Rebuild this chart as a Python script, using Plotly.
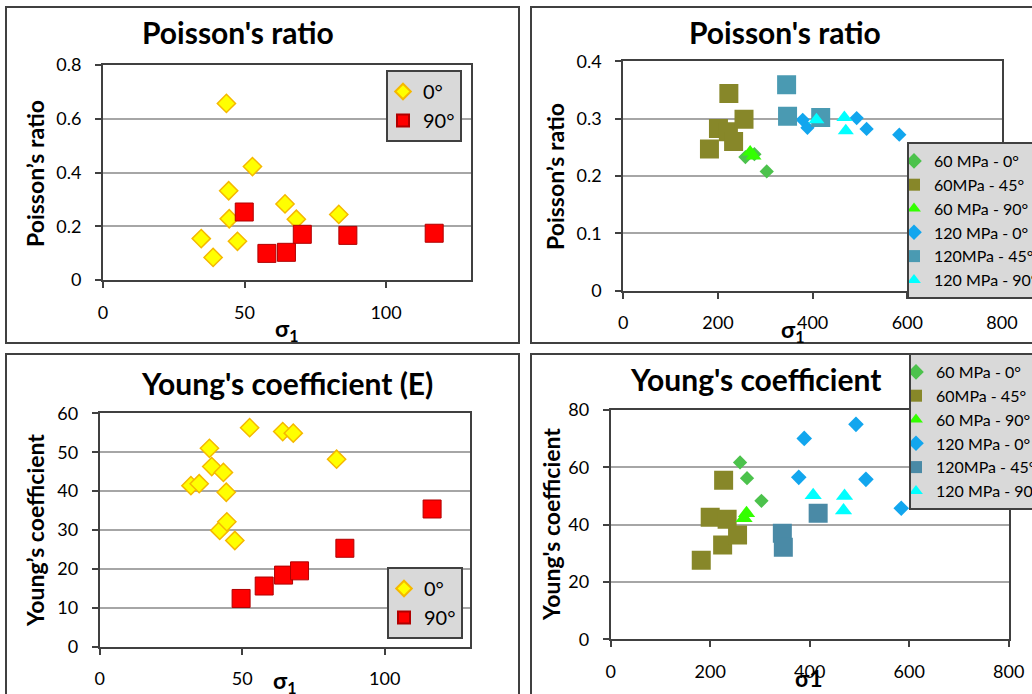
import plotly.graph_objects as go

W, H = 1032, 694
FONT = "Lato, 'Open Sans', 'DejaVu Sans', sans-serif"

# ---- Uniaxial tests: Poisson's ratio vs sigma_1 ----
uni_pr_0_s1 = [34.7, 38.9, 43.6, 44.4, 44.6, 47.5, 52.8, 64.3, 68.3, 83.3]
uni_pr_0_nu = [0.154, 0.084, 0.657, 0.332, 0.228, 0.144, 0.422, 0.283, 0.226, 0.244]
uni_pr_90_s1 = [49.9, 57.9, 64.8, 70.4, 86.5, 117.0]
uni_pr_90_nu = [0.253, 0.099, 0.103, 0.170, 0.166, 0.174]

# ---- Uniaxial tests: Young's coefficient vs sigma_1 ----
uni_e_0_s1 = [32.0, 34.9, 38.5, 39.3, 42.1, 43.4, 44.4, 44.6, 47.4, 52.6, 64.2, 67.9, 83.1]
uni_e_0_e = [41.4, 41.9, 51.0, 46.3, 29.9, 44.8, 39.7, 32.1, 27.3, 56.3, 55.3, 54.9, 48.2]
uni_e_90_s1 = [49.6, 57.7, 64.5, 70.1, 86.0, 116.6]
uni_e_90_e = [12.4, 15.6, 18.4, 19.5, 25.3, 35.4]

# ---- Triaxial tests: Poisson's ratio vs sigma_1 ----
tri_pr_60_0_s1 = [258, 277, 303]
tri_pr_60_0_nu = [0.233, 0.238, 0.208]
tri_pr_60_45_s1 = [182, 201, 222, 223, 233, 255]
tri_pr_60_45_nu = [0.247, 0.283, 0.277, 0.344, 0.260, 0.299]
tri_pr_60_90_s1 = [268, 275]
tri_pr_60_90_nu = [0.242, 0.235]
tri_pr_120_0_s1 = [379, 389, 493, 514, 583]
tri_pr_120_0_nu = [0.298, 0.284, 0.301, 0.282, 0.272]
tri_pr_120_45_s1 = [345, 347, 417]
tri_pr_120_45_nu = [0.359, 0.304, 0.302]
tri_pr_120_90_s1 = [408, 467, 470]
tri_pr_120_90_nu = [0.298, 0.302, 0.279]

# ---- Triaxial tests: Young's coefficient vs sigma_1 ----
tri_e_60_0_s1 = [260, 274, 303]
tri_e_60_0_e = [61.7, 56.2, 48.3]
tri_e_60_45_s1 = [182, 200, 225, 227, 234, 255]
tri_e_60_45_e = [27.6, 42.6, 32.9, 55.5, 41.9, 36.4]
tri_e_60_90_s1 = [268, 273]
tri_e_60_90_e = [42.2, 44.0]
tri_e_120_0_s1 = [378, 389, 493, 513, 584]
tri_e_120_0_e = [56.5, 70.1, 75.0, 55.8, 45.7]
tri_e_120_45_s1 = [345, 347, 417]
tri_e_120_45_e = [37.0, 32.1, 44.0]
tri_e_120_90_s1 = [407, 468, 470]
tri_e_120_90_e = [50.3, 44.9, 50.0]

uni_names = ["0°", "90°"]
tri_names = ["60 MPa - 0°", "60MPa - 45°", "60 MPa - 90°",
             "120 MPa - 0°", "120MPa - 45°", "120 MPa - 90°"]


def px(x):
    return x / W


def py(y):
    return 1 - y / H


uni_styles = [
    dict(symbol="diamond", size=14, color="#ffff00", line=dict(color="#f5b800", width=1.5)),
    dict(symbol="square", size=18, color="#ff0000", line=dict(color="#b00000", width=1)),
]


def tri_styles(big):
    return [
        dict(symbol="diamond", size=11, color="#4cc24c", line=dict(width=0)),
        dict(symbol="square", size=19, color="#878729", line=dict(width=0)),
        dict(symbol="triangle-up", size=15 if big else 14, color="#33ff00", line=dict(width=0)),
        dict(symbol="diamond", size=12 if big else 11, color="#12a6ee", line=dict(width=0)),
        dict(symbol="square", size=19, color="#4a8aa6" if big else "#4a9ab2", line=dict(width=0)),
        dict(symbol="triangle-up", size=15 if big else 14, color="#00ffff", line=dict(width=0)),
    ]


fig = go.Figure()

# Panel 1: uniaxial Poisson's ratio
for name, xs, ys, st in zip(uni_names, [uni_pr_0_s1, uni_pr_90_s1],
                            [uni_pr_0_nu, uni_pr_90_nu], uni_styles):
    fig.add_trace(go.Scatter(x=xs, y=ys, mode="markers", name=name, marker=st,
                             xaxis="x", yaxis="y", legend="legend",
                             legendgroup="a" + name))

# Panel 2: triaxial Poisson's ratio
for name, xs, ys, st in zip(
        tri_names,
        [tri_pr_60_0_s1, tri_pr_60_45_s1, tri_pr_60_90_s1,
         tri_pr_120_0_s1, tri_pr_120_45_s1, tri_pr_120_90_s1],
        [tri_pr_60_0_nu, tri_pr_60_45_nu, tri_pr_60_90_nu,
         tri_pr_120_0_nu, tri_pr_120_45_nu, tri_pr_120_90_nu],
        tri_styles(False)):
    fig.add_trace(go.Scatter(x=xs, y=ys, mode="markers", name=name, marker=st,
                             xaxis="x2", yaxis="y2", legend="legend2",
                             legendgroup="b" + name))

# Panel 3: uniaxial Young's coefficient
for name, xs, ys, st in zip(uni_names, [uni_e_0_s1, uni_e_90_s1],
                            [uni_e_0_e, uni_e_90_e], uni_styles):
    fig.add_trace(go.Scatter(x=xs, y=ys, mode="markers", name=name, marker=st,
                             xaxis="x3", yaxis="y3", legend="legend3",
                             legendgroup="c" + name))

# Panel 4: triaxial Young's coefficient
for name, xs, ys, st in zip(
        tri_names,
        [tri_e_60_0_s1, tri_e_60_45_s1, tri_e_60_90_s1,
         tri_e_120_0_s1, tri_e_120_45_s1, tri_e_120_90_s1],
        [tri_e_60_0_e, tri_e_60_45_e, tri_e_60_90_e,
         tri_e_120_0_e, tri_e_120_45_e, tri_e_120_90_e],
        tri_styles(True)):
    fig.add_trace(go.Scatter(x=xs, y=ys, mode="markers", name=name, marker=st,
                             xaxis="x4", yaxis="y4", legend="legend4",
                             legendgroup="d" + name))

AX = "#404040"
tickfont = dict(family=FONT, size=18, color="#000000")


def xax(domain, rng, dtick, anchor):
    return dict(domain=domain, range=rng, dtick=dtick, anchor=anchor,
                showgrid=False, zeroline=False, showline=True, mirror=True,
                linecolor=AX, linewidth=2, ticks="outside", ticklen=6,
                tickwidth=2, tickcolor=AX, tickfont=tickfont,
                ticklabelstandoff=9, fixedrange=True)


def yax(domain, rng, dtick, anchor):
    return dict(domain=domain, range=rng, dtick=dtick, anchor=anchor,
                showgrid=True, gridcolor="#a6a6a6", gridwidth=2,
                zeroline=False, showline=True, mirror=True,
                linecolor=AX, linewidth=2, ticks="outside", ticklen=6,
                tickwidth=2, tickcolor=AX, tickfont=tickfont,
                ticklabelstandoff=10, fixedrange=True)


def legend_box(left, top, size, gap, indent):
    return dict(x=px(left), y=py(top), xanchor="left", yanchor="top",
                bgcolor="#d9d9d9", bordercolor=AX, borderwidth=2,
                font=dict(family=FONT, size=size, color="#000000"),
                tracegroupgap=gap, itemsizing="constant", indentation=indent)


fig.update_layout(
    width=W, height=H,
    margin=dict(l=0, r=0, t=0, b=0, autoexpand=False),
    paper_bgcolor="white", plot_bgcolor="white",
    xaxis=xax([px(103), px(471)], [0, 130], 50, "y"),
    yaxis=yax([py(280), py(65)], [0, 0.8], 0.2, "x"),
    xaxis2=xax([px(623.3), px(1002)], [0, 800], 200, "y2"),
    yaxis2=yax([py(290.7), py(61.3)], [0, 0.4], 0.1, "x2"),
    xaxis3=xax([px(99.7), px(470.3)], [0, 130], 50, "y3"),
    yaxis3=yax([py(646.7), py(413.3)], [0, 60], 10, "x3"),
    xaxis4=xax([px(610.7), px(1008.7)], [0, 800], 200, "y4"),
    yaxis4=yax([py(639.3), py(410)], [0, 80], 20, "x4"),
    legend=legend_box(386, 70, 20, 0, -5),
    legend2=legend_box(907, 142, 16, 0, -15),
    legend3=legend_box(387, 567, 20, 0, -5),
    legend4=legend_box(909, 353, 16, 0, -15),
    showlegend=True,
)

# Chart frames around each panel
for x0, y0, x1, y1 in [(6, 7, 519, 343), (531, 7, 1045, 343),
                       (6, 354, 519, 705), (531, 354, 1045, 705)]:
    fig.add_shape(type="rect", xref="paper", yref="paper",
                  x0=px(x0), x1=px(x1), y0=py(y1), y1=py(y0),
                  line=dict(color=AX, width=2), fillcolor="rgba(0,0,0,0)")


def label(text, x, y, size, angle=0):
    fig.add_annotation(text=text, x=px(x), y=py(y), xref="paper", yref="paper",
                       xanchor="center", yanchor="middle", showarrow=False,
                       textangle=angle,
                       font=dict(family=FONT, size=size, color="#000000", weight="bold"))


# Chart titles
label("Poisson's ratio", 238, 32, 30)
label("Poisson's ratio", 785, 32, 30)
label("Young's coefficient (E)", 287, 383, 30)
label("Young's coefficient", 755, 379, 30)

# Axis titles
label("Poisson’s ratio", 35, 174, 23, -90)
label("Poisson’s ratio", 555, 177, 23, -90)
label("Young’s coefficient", 35, 531, 23, -90)
label("Young's coefficient", 551, 525, 23, -90)
label("σ<sub>1</sub>", 287, 329, 23)
label("σ<sub>1</sub>", 793, 330, 23)
label("σ<sub>1</sub>", 285, 681, 23)
label("σ1", 809, 678, 23)

fig.write_html("out.html")
